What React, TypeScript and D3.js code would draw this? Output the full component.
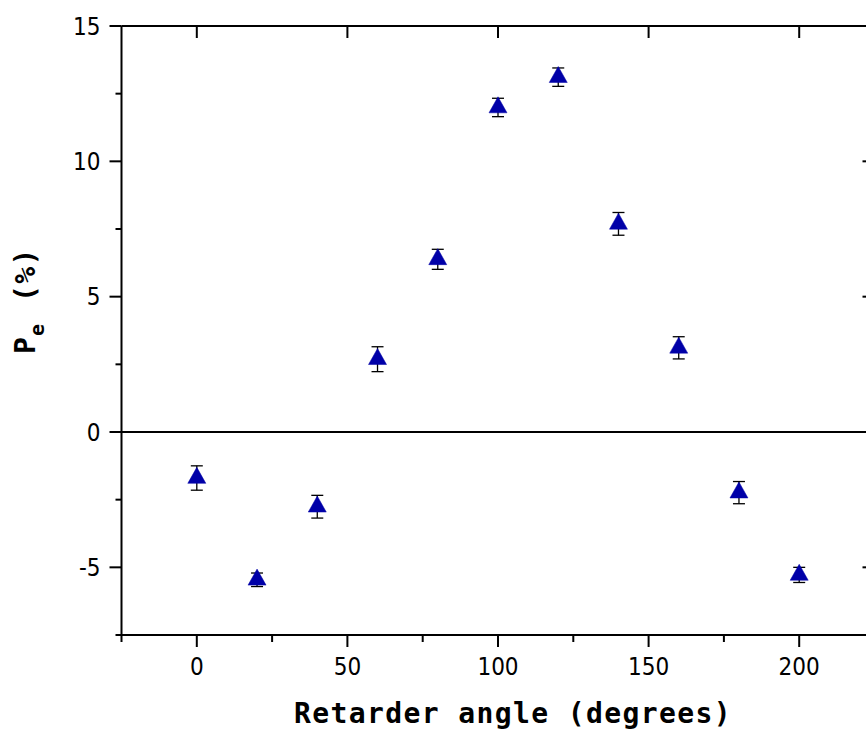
import React from "react";
import * as d3 from "d3";

const angles = [0, 20, 40, 60, 80, 100, 120, 140, 160, 180, 200];
const pe = [-1.7, -5.46, -2.76, 2.69, 6.38, 11.99, 13.11, 7.69, 3.11, -2.24, -5.28];
const peErr = [0.45, 0.25, 0.42, 0.46, 0.37, 0.34, 0.34, 0.42, 0.41, 0.41, 0.28];
const xTicks = [0, 50, 100, 150, 200];
const xMinor = [-25, 25, 75, 125, 175, 225];
const yTicks = [-5, 0, 5, 10, 15];
const yMinor = [-7.5, -2.5, 2.5, 7.5, 12.5];

const W = 866;
const H = 735;
const L = 121.5, R = 874.5, T = 26, B = 635;

export default function App() {
  const x = d3.scaleLinear().domain([-25, 225]).range([L, R]);
  const y = d3.scaleLinear().domain([-7.5, 15]).range([B, T]);
  const tickFont = "'DejaVu Sans Condensed', 'Liberation Sans', sans-serif";
  const titleFont = "'DejaVu Sans Mono', monospace";
  const tri = (cx: number, cy: number) => {
    const w = 9, h = 16;
    return `M${cx},${cy - (2 * h) / 3}L${cx + w},${cy + h / 3}L${cx - w},${cy + h / 3}Z`;
  };
  return (
    <svg width={W} height={H} style={{ position: "absolute", left: 0, top: 0, background: "#fff" }}>
      <rect x={0} y={0} width={W} height={H} fill="#fff" />
      {/* zero line */}
      <line x1={L} x2={R} y1={y(0)} y2={y(0)} stroke="#000" strokeWidth={2} />
      {/* axes frame */}
      <line x1={L} x2={L} y1={T} y2={B} stroke="#000" strokeWidth={2} />
      <line x1={L} x2={R} y1={B} y2={B} stroke="#000" strokeWidth={2} />
      <line x1={L} x2={R} y1={T} y2={T} stroke="#000" strokeWidth={2} />
      <line x1={R} x2={R} y1={T} y2={B} stroke="#000" strokeWidth={2} />
      {/* left ticks */}
      {yTicks.map((v) => (
        <g key={"yl" + v}>
          <line x1={L - 12} x2={L} y1={y(v)} y2={y(v)} stroke="#000" strokeWidth={2} />
          <line x1={R - 12} x2={R} y1={y(v)} y2={y(v)} stroke="#000" strokeWidth={2} />
          <text x={L - 21} y={y(v) + 8.5} textAnchor="end" fontFamily={tickFont} fontSize={24} fill="#000">
            {v}
          </text>
        </g>
      ))}
      {yMinor.map((v) => (
        <line key={"ym" + v} x1={L - 6} x2={L} y1={y(v)} y2={y(v)} stroke="#000" strokeWidth={2} />
      ))}
      {/* bottom ticks */}
      {xTicks.map((v) => (
        <g key={"xb" + v}>
          <line x1={x(v)} x2={x(v)} y1={B} y2={B + 12} stroke="#000" strokeWidth={2} />
          <line x1={x(v)} x2={x(v)} y1={T} y2={T + 12} stroke="#000" strokeWidth={2} />
          <text x={x(v)} y={B + 40} textAnchor="middle" fontFamily={tickFont} fontSize={24} fill="#000">
            {v}
          </text>
        </g>
      ))}
      {xMinor.map((v) => (
        <line key={"xm" + v} x1={x(v)} x2={x(v)} y1={B} y2={B + 7} stroke="#000" strokeWidth={2} />
      ))}
      {/* error bars */}
      {angles.map((a, i) => {
        const cx = x(a);
        const y1 = y(pe[i] + peErr[i]);
        const y2 = y(pe[i] - peErr[i]);
        return (
          <g key={"e" + i} stroke="#000" strokeWidth={1.3}>
            <line x1={cx} x2={cx} y1={y1} y2={y2} />
            <line x1={cx - 6} x2={cx + 6} y1={y1} y2={y1} />
            <line x1={cx - 6} x2={cx + 6} y1={y2} y2={y2} />
          </g>
        );
      })}
      {/* markers */}
      {angles.map((a, i) => (
        <path key={"p" + i} d={tri(x(a), y(pe[i]))} fill="#0000a8" stroke="#0000a8" strokeWidth={0.5} />
      ))}
      {/* x title */}
      <text
        x={513}
        y={723}
        textAnchor="middle"
        fontFamily={titleFont}
        fontWeight="bold"
        fontSize={28}
        letterSpacing={1.4}
        fill="#000"
      >
        Retarder angle (degrees)
      </text>
      {/* y title */}
      <g transform="translate(35,354) rotate(-90)">
        <text x={0} y={0} fontFamily={titleFont} fontWeight="bold" fontSize={28} fill="#000">
          P
        </text>
        <text x={18} y={9} fontFamily={titleFont} fontWeight="bold" fontSize={20} fill="#000">
          e
        </text>
        <text x={52} y={0} fontFamily={titleFont} fontWeight="bold" fontSize={28} letterSpacing={1.4} fill="#000">
          (%)
        </text>
      </g>
    </svg>
  );
}
